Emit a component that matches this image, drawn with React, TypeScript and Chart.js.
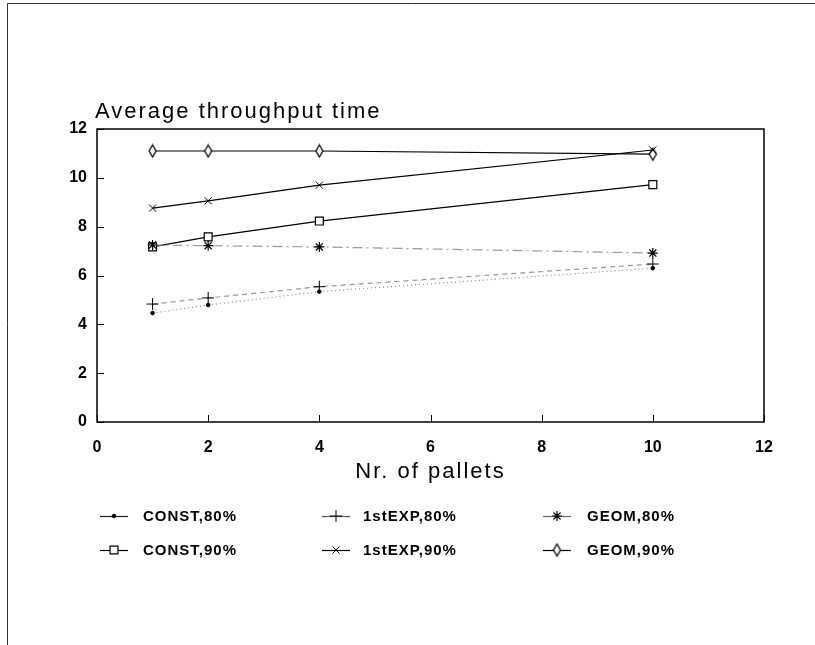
import React, { useEffect, useRef } from 'react';
import { Chart, registerables } from 'chart.js';
import { drawPoint } from 'chart.js/helpers';

Chart.register(...registerables);

const pallets = [1, 2, 4, 10];
const const80 = [4.46, 4.79, 5.34, 6.3];
const exp80 = [4.83, 5.08, 5.54, 6.47];
const geom80 = [7.25, 7.22, 7.17, 6.92];
const const90 = [7.17, 7.58, 8.23, 9.72];
const exp90 = [8.76, 9.06, 9.7, 11.14];
const geom90 = [11.1, 11.1, 11.1, 10.97];

const seriesLabels = ['CONST,80%', '1stEXP,80%', 'GEOM,80%', 'CONST,90%', '1stEXP,90%', 'GEOM,90%'];
const xTickValues = [0, 2, 4, 6, 8, 10, 12];
const yTickValues = [0, 2, 4, 6, 8, 10, 12];
const chartTitle = 'Average throughput time';
const xAxisTitle = 'Nr. of pallets';

const FONT = '"Liberation Sans", Arial, Helvetica, sans-serif';

function makeDiamond(): HTMLCanvasElement {
  const c = document.createElement('canvas');
  c.width = 11;
  c.height = 15;
  const g = c.getContext('2d')!;
  g.beginPath();
  g.moveTo(5.5, 1.5);
  g.lineTo(9, 7.5);
  g.lineTo(5.5, 13.5);
  g.lineTo(2, 7.5);
  g.closePath();
  g.fillStyle = '#fff';
  g.fill();
  g.strokeStyle = '#000';
  g.lineWidth = 1.3;
  g.stroke();
  return c;
}

export default function App() {
  const ref = useRef<HTMLCanvasElement | null>(null);

  useEffect(() => {
    const canvas = ref.current;
    if (!canvas) return;
    const diamond = makeDiamond();

    const styles = [
      { data: const80, color: '#888', dash: [1, 3], point: 'circle', radius: 1.8, fill: '#000', bw: 1, legendColor: '#222' },
      { data: exp80, color: '#999', dash: [5, 4], point: 'cross', radius: 6, fill: '#000', bw: 1, legendColor: '#555' },
      { data: geom80, color: '#999', dash: [10, 4, 2, 4], point: 'star', radius: 5, fill: '#000', bw: 1.2, legendColor: '#666' },
      { data: const90, color: '#000', dash: [], point: 'rect', radius: 5.6, fill: '#fff', bw: 1.2, legendColor: '#000' },
      { data: exp90, color: '#000', dash: [], point: 'crossRot', radius: 5, fill: '#000', bw: 1, legendColor: '#000' },
      { data: geom90, color: '#000', dash: [], point: diamond as any, radius: 6, fill: '#fff', bw: 1.2, legendColor: '#000' },
    ];

    const datasets = styles.map((s, i) => ({
      label: seriesLabels[i],
      data: pallets.map((x, j) => ({ x, y: s.data[j] })),
      borderColor: s.color,
      borderWidth: 1.2,
      borderDash: s.dash,
      pointStyle: s.point,
      pointRadius: s.radius,
      pointBorderColor: '#000',
      pointBackgroundColor: s.fill,
      pointBorderWidth: s.bw,
      fill: false,
      tension: 0,
    }));

    const decor = {
      id: 'decor',
      beforeDatasetsDraw(chart: any) {
        const { ctx, chartArea: a, scales } = chart;
        ctx.save();
        ctx.strokeStyle = '#333';
        ctx.lineWidth = 1;
        ctx.beginPath();
        ctx.moveTo(7.5, 645);
        ctx.lineTo(7.5, 3.5);
        ctx.lineTo(815, 3.5);
        ctx.stroke();
        ctx.strokeStyle = '#000';
        ctx.lineWidth = 1.5;
        ctx.strokeRect(a.left, a.top, a.right - a.left, a.bottom - a.top);
        ctx.lineWidth = 1;
        ctx.beginPath();
        yTickValues.forEach((v) => {
          const y = Math.round(scales.y.getPixelForValue(v)) + 0.5;
          ctx.moveTo(a.left, y);
          ctx.lineTo(a.left + 7, y);
        });
        xTickValues.forEach((v) => {
          const x = Math.round(scales.x.getPixelForValue(v)) + 0.5;
          ctx.moveTo(x, a.bottom);
          ctx.lineTo(x, a.bottom - 7);
        });
        ctx.stroke();
        ctx.restore();
      },
      afterDraw(chart: any) {
        const { ctx, chartArea: a } = chart;
        ctx.save();
        ctx.fillStyle = '#000';
        ctx.font = `22px ${FONT}`;
        (ctx as any).letterSpacing = '2px';
        ctx.textAlign = 'left';
        ctx.textBaseline = 'alphabetic';
        ctx.fillText(chartTitle, 95, 118);
        ctx.textAlign = 'center';
        ctx.fillText(xAxisTitle, (a.left + a.right) / 2, 478);
        ctx.font = `bold 15px ${FONT}`;
        (ctx as any).letterSpacing = '1px';
        ctx.textAlign = 'left';
        ctx.textBaseline = 'middle';
        const lineX = [100, 322, 543];
        const textX = [143, 363, 587];
        const rowY = [516, 550];
        styles.forEach((s, i) => {
          const col = i % 3;
          const row = Math.floor(i / 3);
          const y = rowY[row];
          const x0 = lineX[col];
          const x1 = x0 + 28;
          ctx.setLineDash([]);
          ctx.strokeStyle = s.legendColor;
          ctx.lineWidth = 1.2;
          ctx.beginPath();
          ctx.moveTo(x0, y + 0.5);
          ctx.lineTo(x1, y + 0.5);
          ctx.stroke();
          ctx.strokeStyle = '#000';
          ctx.fillStyle = s.fill;
          ctx.lineWidth = s.bw;
          drawPoint(ctx, { pointStyle: s.point, radius: s.radius, borderWidth: s.bw, rotation: 0 } as any, (x0 + x1) / 2, y);
          ctx.fillStyle = '#000';
          ctx.fillText(seriesLabels[i], textX[col], y + 1);
        });
        ctx.restore();
      },
    };

    const chart = new Chart(canvas, {
      type: 'line',
      data: { datasets: datasets as any },
      plugins: [decor],
      options: {
        animation: false,
        responsive: false,
        devicePixelRatio: 1,
        layout: { padding: { left: 57, right: 51, top: 129, bottom: 183 } },
        plugins: { legend: { display: false }, title: { display: false }, tooltip: { enabled: false } },
        scales: {
          x: {
            type: 'linear',
            min: 0,
            max: 12,
            afterFit: (s: any) => { s.height = 40; },
            afterBuildTicks: (s: any) => { s.ticks = xTickValues.map((v) => ({ value: v })); },
            grid: { display: false, drawTicks: false },
            border: { display: false },
            ticks: { padding: 16, color: '#000', font: { family: FONT, size: 16, weight: 'bold' }, maxRotation: 0 },
          },
          y: {
            type: 'linear',
            min: 0,
            max: 12,
            afterFit: (s: any) => { s.width = 40; },
            afterBuildTicks: (s: any) => { s.ticks = yTickValues.map((v) => ({ value: v })); },
            grid: { display: false, drawTicks: false },
            border: { display: false },
            ticks: { padding: 10, color: '#000', font: { family: FONT, size: 16, weight: 'bold' } },
          },
        },
      } as any,
    });
    return () => chart.destroy();
  }, []);

  return (
    <div style={{ position: 'fixed', left: 0, top: 0, width: 815, height: 645, background: '#fff' }}>
      <canvas ref={ref} width={815} height={645} style={{ display: 'block', width: 815, height: 645 }} />
    </div>
  );
}
